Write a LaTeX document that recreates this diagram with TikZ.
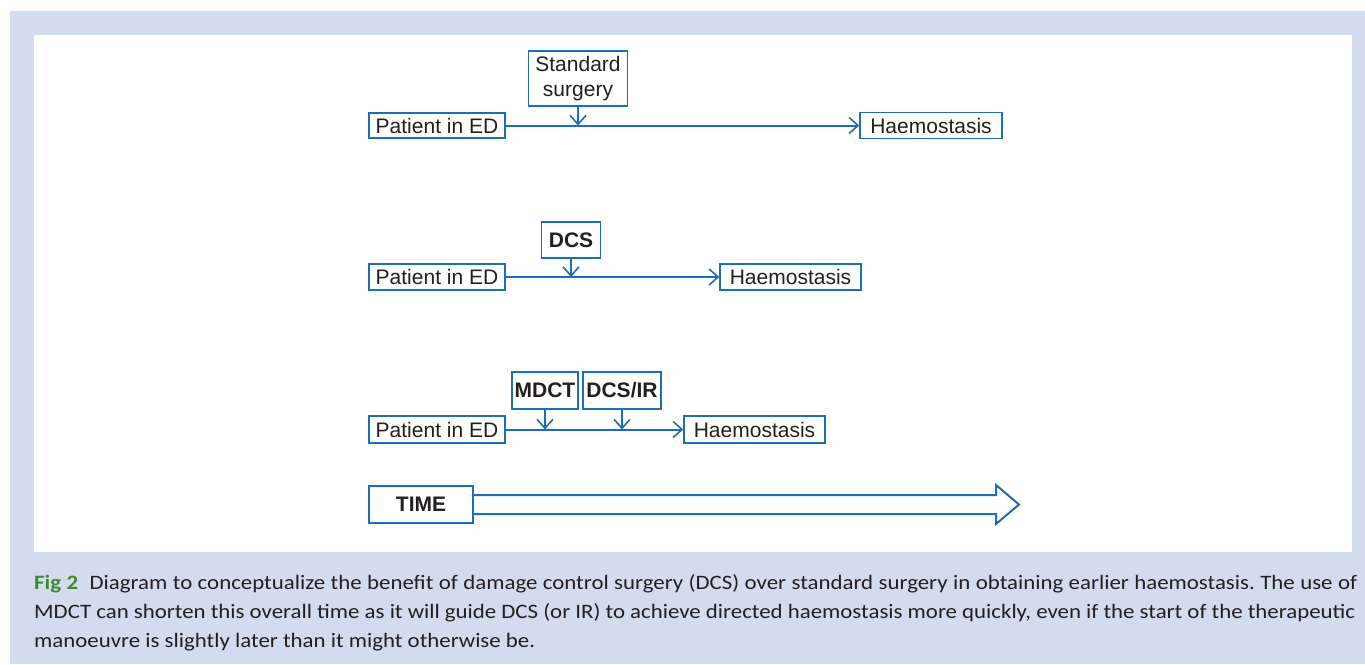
\documentclass[tikz,border=0pt]{standalone}
\usepackage{fontspec}
\setmainfont{Liberation Sans}
\newfontfamily\capfont[FakeStretch=1.115]{Carlito}
\usetikzlibrary{arrows.meta}
\definecolor{lineblue}{HTML}{1E6EB4}
\definecolor{bgblue}{HTML}{D3DCEE}
\definecolor{txtgray}{HTML}{231F20}
\definecolor{figgreen}{HTML}{3E8A2E}
\tikzset{
  box/.style={draw=lineblue, line width=1.4pt, inner sep=0pt, text=txtgray,
    font=\fontsize{21}{25}\selectfont, align=center},
  bbox/.style={box, font=\fontsize{21}{25}\selectfont\bfseries},
  flow/.style={draw=lineblue, line width=2pt, -{Straight Barb[length=9pt,width=16pt,line width=1.6pt]}},
  capline/.style={anchor=base west, inner sep=0pt, text=txtgray, font=\capfont\fontsize{20.5}{24}\selectfont\frenchspacing}
}
\begin{document}
\begin{tikzpicture}[x=1pt,y=-1pt]
\useasboundingbox (0,0) rectangle (1365,664);
\fill[white] (0,0) rectangle (1365,664);
\fill[bgblue] (10,11) rectangle (1365,664);
\fill[white] (34,35) rectangle (1352,552);

% Row 1
\node[box, minimum width=136pt, minimum height=25pt] (p1) at (437,125.5) {Patient in ED};
\node[box, minimum width=99pt, minimum height=55pt] (s1) at (578,78.5) {Standard\\surgery};
\node[box, minimum width=142pt, minimum height=26pt] (h1) at (931,125.5) {Haemostasis};
\draw[flow] (p1.east) -- (h1.west);
\draw[flow] (s1.south) -- (s1.south |- p1.east);

% Row 2
\node[box, minimum width=136pt, minimum height=26pt] (p2) at (437,277) {Patient in ED};
\node[bbox, minimum width=59pt, minimum height=36pt] (d2) at (571,240) {DCS};
\node[box, minimum width=141pt, minimum height=26pt] (h2) at (790.5,277) {Haemostasis};
\draw[flow] (p2.east) -- (h2.west);
\draw[flow] (d2.south) -- (d2.south |- p2.east);

% Row 3
\node[box, minimum width=136pt, minimum height=27pt] (p3) at (437,429.5) {Patient in ED};
\node[bbox, minimum width=66pt, minimum height=37pt] (m3) at (545,390.5) {MDCT};
\node[bbox, minimum width=78pt, minimum height=37pt] (r3) at (622,390.5) {DCS/IR};
\node[box, minimum width=141pt, minimum height=27pt] (h3) at (754.5,429.5) {Haemostasis};
\draw[flow] (p3.east) -- (h3.west);
\draw[flow] (m3.south) -- (m3.south |- p3.east);
\draw[flow] (r3.south) -- (r3.south |- p3.east);

% TIME arrow
\node[bbox, minimum width=104pt, minimum height=37pt] (t) at (421,504.5) {TIME};
\coordinate (hb1) at (996,495);
\coordinate (hb2) at (996,514);
\coordinate (ht1) at (996,485);
\coordinate (ht2) at (996,524);
\coordinate (tip) at (1019,504.5);
\draw[lineblue, line width=2pt, line join=miter]
  (t.east |- hb1) -- (hb1) -- (ht1) -- (tip) -- (ht2) -- (hb2) -- (t.east |- hb2);

% Caption
\node[capline] (c1) at (34,589) {\makebox[1323pt][s]{\textcolor{figgreen}{\bfseries Fig 2}\hspace{6pt} Diagram to conceptualize the benefit of damage control surgery (DCS) over standard surgery in obtaining earlier haemostasis. The use of}};
\node[capline] (c2) at (34,618) {\makebox[1321pt][s]{MDCT can shorten this overall time as it will guide DCS (or IR) to achieve directed haemostasis more quickly, even if the start of the therapeutic}};
\node[capline] (c3) at (34,647) {manoeuvre is slightly later than it might otherwise be.};
\end{tikzpicture}
\end{document}
